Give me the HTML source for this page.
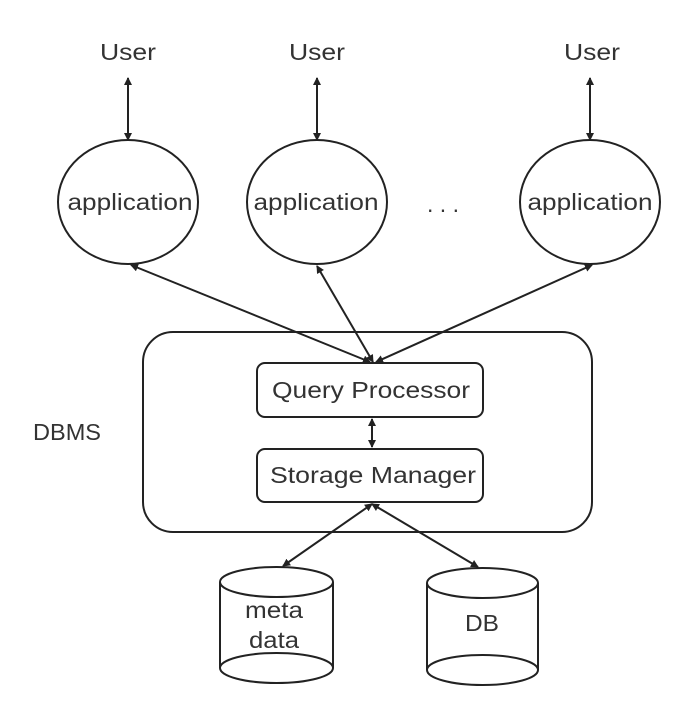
<!DOCTYPE html>
<html><head><style>body{margin:0;background:#fff}</style></head><body>
<svg width="700" height="702" viewBox="0 0 700 702" xmlns="http://www.w3.org/2000/svg" font-family="Liberation Sans, sans-serif" fill="none" stroke="#222" stroke-width="2">
<defs><marker id="a" markerWidth="8" markerHeight="8" refX="7" refY="4" orient="auto-start-reverse" markerUnits="userSpaceOnUse"><path d="M0,0 L8,4 L0,8 z" fill="#222" stroke="none"/></marker></defs>
<g fill="#333" stroke="none" font-size="23" text-anchor="middle">
<text x="128" y="60" textLength="56" lengthAdjust="spacingAndGlyphs">User</text>
<text x="317" y="60" textLength="56" lengthAdjust="spacingAndGlyphs">User</text>
<text x="592" y="60" textLength="56" lengthAdjust="spacingAndGlyphs">User</text>
<text x="130" y="210" textLength="125" lengthAdjust="spacingAndGlyphs">application</text>
<text x="316" y="210" textLength="125" lengthAdjust="spacingAndGlyphs">application</text>
<text x="590" y="210" textLength="125" lengthAdjust="spacingAndGlyphs">application</text>
<text x="443" y="212">. . .</text>
<text x="67" y="440" textLength="68" lengthAdjust="spacingAndGlyphs">DBMS</text>
<text x="371" y="398" textLength="198" lengthAdjust="spacingAndGlyphs">Query Processor</text>
<text x="373" y="483" textLength="206" lengthAdjust="spacingAndGlyphs">Storage Manager</text>
<text x="274" y="618" textLength="58" lengthAdjust="spacingAndGlyphs">meta</text>
<text x="274" y="648" textLength="50" lengthAdjust="spacingAndGlyphs">data</text>
<text x="482" y="631" textLength="34" lengthAdjust="spacingAndGlyphs">DB</text>
</g>
<ellipse cx="128" cy="202" rx="70" ry="62"/>
<ellipse cx="317" cy="202" rx="70" ry="62"/>
<ellipse cx="590" cy="202" rx="70" ry="62"/>
<line x1="128" y1="78" x2="128" y2="140" marker-start="url(#a)" marker-end="url(#a)"/>
<line x1="317" y1="78" x2="317" y2="140" marker-start="url(#a)" marker-end="url(#a)"/>
<line x1="590" y1="78" x2="590" y2="140" marker-start="url(#a)" marker-end="url(#a)"/>
<rect x="143" y="332" width="449" height="200" rx="30"/>
<rect x="257" y="363" width="226" height="54" rx="8"/>
<rect x="257" y="449" width="226" height="53" rx="8"/>
<line x1="372" y1="419" x2="372" y2="447" marker-start="url(#a)" marker-end="url(#a)"/>
<line x1="131" y1="265" x2="370" y2="362" marker-start="url(#a)" marker-end="url(#a)"/>
<line x1="317" y1="266" x2="373" y2="362" marker-start="url(#a)" marker-end="url(#a)"/>
<line x1="592" y1="265" x2="376" y2="362" marker-start="url(#a)" marker-end="url(#a)"/>
<line x1="372" y1="504" x2="283" y2="566" marker-start="url(#a)" marker-end="url(#a)"/>
<line x1="372" y1="504" x2="478" y2="567" marker-start="url(#a)" marker-end="url(#a)"/>
<path d="M220,582 A56.5,15 0 0 1 333,582 L333,668 A56.5,15 0 0 1 220,668 Z M220,582 A56.5,15 0 0 0 333,582 M220,668 A56.5,15 0 0 1 333,668"/>
<path d="M427,583 A55.5,15 0 0 1 538,583 L538,670 A55.5,15 0 0 1 427,670 Z M427,583 A55.5,15 0 0 0 538,583 M427,670 A55.5,15 0 0 1 538,670"/>
</svg>
</body></html>
